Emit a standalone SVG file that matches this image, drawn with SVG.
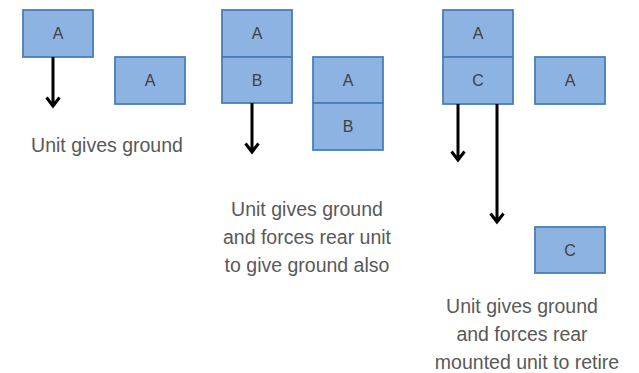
<svg xmlns="http://www.w3.org/2000/svg" width="639" height="373" viewBox="0 0 639 373">
<style>
.box{fill:#8db3e2;stroke:#4a7ebb;stroke-width:1.8}
.lbl{font-family:"Liberation Sans",Arial,sans-serif;font-size:16px;fill:#404040;text-anchor:middle}
.cap{font-family:"Liberation Sans",Arial,sans-serif;font-size:19.5px;fill:#595959;text-anchor:middle}
.arr{fill:none;stroke:#000;stroke-width:3}
</style>
<rect width="639" height="373" fill="#fff"/>
<g id="p1-a"><rect class="box" x="23" y="10" width="70" height="47"/><text class="lbl" x="58" y="39">A</text></g>
<g id="p1-a2"><rect class="box" x="115" y="57" width="70" height="47"/><text class="lbl" x="150" y="86">A</text></g>
<g id="p2-a"><rect class="box" x="222" y="10" width="70" height="47"/><text class="lbl" x="257" y="39">A</text></g>
<g id="p2-b"><rect class="box" x="222" y="57" width="70" height="46"/><text class="lbl" x="257" y="86">B</text></g>
<g id="p2-a2"><rect class="box" x="313" y="57" width="70" height="46"/><text class="lbl" x="348" y="86">A</text></g>
<g id="p2-b2"><rect class="box" x="313" y="103" width="70" height="47"/><text class="lbl" x="348" y="132">B</text></g>
<g id="p3-a"><rect class="box" x="443" y="10" width="70" height="47"/><text class="lbl" x="478" y="39">A</text></g>
<g id="p3-c"><rect class="box" x="443" y="57" width="70" height="47"/><text class="lbl" x="478" y="86">C</text></g>
<g id="p3-a2"><rect class="box" x="535" y="57" width="70" height="47"/><text class="lbl" x="570" y="86">A</text></g>
<g id="p3-c2"><rect class="box" x="535" y="227" width="70" height="46"/><text class="lbl" x="570" y="256">C</text></g>
<g id="connectors">
<path class="arr" d="M53 57V106M46.5 97.5L53 106L59.5 97.5"/>
<path class="arr" d="M252 103V152M245.5 143.5L252 152L258.5 143.5"/>
<path class="arr" d="M458 104V160M451.5 151.5L458 160L464.5 151.5"/>
<path class="arr" d="M497 104V222M490.5 213.5L497 222L503.5 213.5"/>
</g>
<g id="captions">
<text class="cap" x="107" y="152">Unit gives ground</text>
<text class="cap" x="307" y="216">Unit gives ground</text>
<text class="cap" x="307" y="244">and forces rear unit</text>
<text class="cap" x="307" y="272">to give ground also</text>
<text class="cap" x="522" y="313">Unit gives ground</text>
<text class="cap" x="522" y="341">and forces rear</text>
<text class="cap" x="527" y="369">mounted unit to retire</text>
</g>
</svg>
